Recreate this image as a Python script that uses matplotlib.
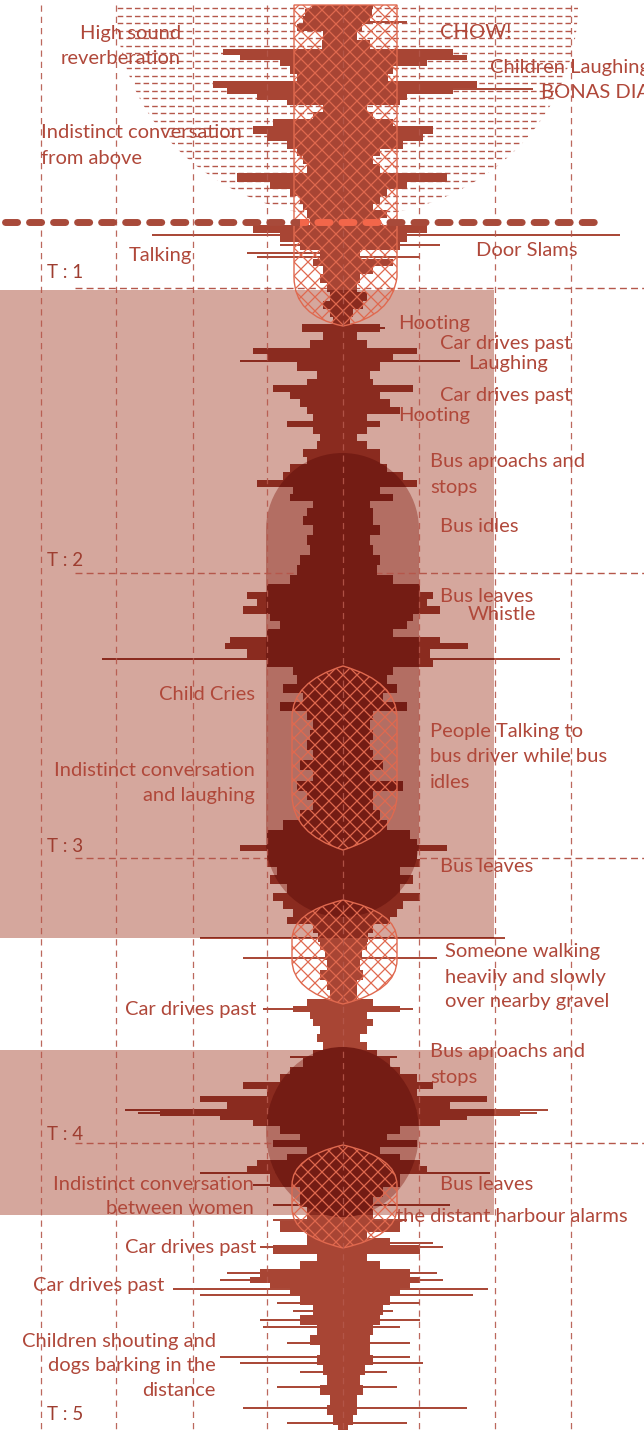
import numpy as np
import matplotlib.pyplot as plt
from matplotlib.patches import Rectangle, PathPatch
from matplotlib.path import Path
from matplotlib.collections import LineCollection
from matplotlib.transforms import Affine2D

W, H = 644, 1430
CX = 343  # centre of the waveform

# waveform envelope (px from top, half widths in px)
wave_t = [5, 12, 20, 27, 35, 45, 52, 57, 62, 70, 77, 85, 90, 97, 102, 108, 115, 122, 130, 137,
          145, 152, 160, 167, 178, 185, 192, 200, 207, 213, 222, 228, 238, 245, 255, 262, 270, 278,
          288, 296, 305, 313, 320, 328, 335, 345, 350, 357, 367, 375, 382, 388, 395, 403, 410, 418,
          423, 430, 437, 445, 453, 460, 468, 476, 484, 490, 498, 503, 512, 520, 530, 540, 550, 560,
          570, 580, 588, 595, 602, 610, 617, 625, 633, 640, 645, 652, 663, 670, 680, 688, 697, 707,
          715, 725, 735, 745, 755, 765, 775, 786, 795, 805, 815, 825, 835, 842, 847, 855, 863, 870,
          880, 888, 897, 905, 913, 920, 928, 938, 945, 955, 965, 975, 985, 995, 1003, 1009, 1015,
          1022, 1030, 1038, 1046, 1053, 1063, 1070, 1078, 1085, 1093, 1098, 1105, 1113, 1118, 1122,
          1130, 1137, 1143, 1150, 1157, 1163, 1168, 1180, 1193, 1200, 1213, 1228, 1235, 1240, 1250,
          1257, 1265, 1273, 1280, 1285, 1290, 1300, 1310, 1320, 1330, 1340, 1350, 1360, 1370, 1380,
          1390, 1400, 1410, 1420, 1430]
amp_left = [31, 38, 40, 46, 20, 21, 120, 103, 63, 53, 46, 130, 116, 86, 56, 20, 30, 70, 90, 76,
            56, 46, 40, 36, 106, 73, 53, 43, 40, 36, 33, 90, 63, 43, 23, 30, 20, 23,
            16, 13, 20, 13, 10, 41, 20, 33, 90, 76, 46, 26, 36, 70, 53, 43, 36, 30,
            56, 30, 23, 26, 40, 36, 53, 60, 86, 50, 53, 30, 36, 40, 30, 36, 33, 43,
            46, 53, 76, 96, 86, 100, 73, 63, 76, 113, 118, 96, 76, 50, 46, 60, 40, 63,
            36, 30, 33, 36, 30, 43, 30, 46, 36, 30, 43, 60, 76, 76, 103, 76, 76, 66,
            73, 56, 70, 60, 50, 56, 30, 25, 23, 18, 16, 23, 16, 13, 36, 50, 33,
            30, 23, 26, 20, 30, 40, 53, 63, 100, 76, 143, 116, 183, 123, 90,
            63, 43, 70, 36, 56, 86, 96, 73, 43, 43, 36, 63, 36, 36, 70,
            26, 43, 83, 93, 73, 53, 43, 30, 43, 26, 33, 23, 26, 20, 16,
            23, 13, 16, 10, 5]
amp_right = [30, 29, 27, 19, 14, 27, 110, 124, 84, 50, 45, 134, 110, 64, 57, 24, 30, 50, 90, 80,
             60, 37, 30, 37, 104, 64, 44, 37, 30, 44, 37, 84, 64, 57, 17, 50, 30, 17,
             14, 24, 20, 10, 7, 37, 14, 24, 74, 50, 37, 27, 30, 70, 37, 47, 57, 24,
             37, 24, 14, 24, 37, 37, 44, 60, 74, 37, 50, 27, 30, 30, 37, 27, 30, 37,
             34, 50, 77, 90, 84, 97, 70, 64, 50, 97, 125, 87, 90, 50, 44, 54, 40, 64,
             30, 27, 30, 27, 30, 40, 27, 60, 30, 30, 37, 44, 67, 74, 104, 74, 77, 57,
             70, 57, 77, 60, 54, 47, 30, 25, 24, 19, 17, 20, 14, 14, 30, 57, 24,
             30, 24, 17, 24, 34, 47, 57, 74, 90, 74, 144, 107, 177, 124, 97,
             57, 44, 74, 37, 57, 77, 84, 57, 40, 30, 30, 57, 24, 47, 77,
             24, 37, 67, 77, 67, 57, 47, 40, 37, 30, 27, 27, 30, 22, 17,
             20, 14, 14, 10, 5]

# thin transient strokes (px from top, left / right reach in px)
spike_t = [22, 89, 235, 245, 253, 257, 328, 361, 410, 595, 610, 645, 659, 707, 786, 847, 920,
           938, 958, 1009, 1057, 1110, 1113, 1173, 1185, 1205, 1220, 1243, 1247, 1273, 1280,
           1289, 1295, 1303, 1311, 1320, 1327, 1343, 1357, 1363, 1372, 1387, 1408, 1423]
spike_left = [0, 0, 191, 63, 96, 86, 41, 103, 36, 96, 100, 118, 241, 63, 46, 103, 56,
              143, 100, 80, 53, 218, 205, 143, 90, 70, 70, 0, 83, 116, 123,
              170, 143, 66, 50, 83, 80, 56, 123, 103, 43, 66, 100, 56]
spike_right = [64, 190, 277, 97, 0, 77, 42, 117, 57, 90, 97, 125, 217, 64, 60, 104, 47,
               162, 94, 70, 54, 205, 194, 147, 40, 107, 64, 90, 100, 94, 100,
               145, 130, 77, 50, 77, 57, 67, 67, 80, 44, 54, 124, 64]

grid_x = [41, 116, 193, 267, 343, 419, 495, 571]
t_marks = ['T : 1', 'T : 2', 'T : 3', 'T : 4', 'T : 5']
t_mark_y = [272, 561, 847, 1134, 1415]
t_line_y = [288, 573, 858, 1143]

events = ['High sound', 'reverberation', 'CHOW!', 'Children Laughing', 'BONAS DIAS',
          'Indistinct conversation', 'from above', 'Talking', 'Door Slams',
          'Hooting', 'Car drives past', 'Laughing', 'Car drives past', 'Hooting',
          'Bus aproachs and', 'stops', 'Bus idles', 'Bus leaves', 'Whistle',
          'Child Cries', 'People Talking to', 'bus driver while bus', 'idles',
          'Indistinct conversation', 'and laughing', 'Bus leaves',
          'Someone walking', 'heavily and slowly', 'over nearby gravel', 'Car drives past',
          'Bus aproachs and', 'stops', 'Indistinct conversation', 'between women',
          'Bus leaves', 'the distant harbour alarms', 'Car drives past', 'Car drives past',
          'Children shouting and', 'dogs barking in the', 'distance']
event_pos = [(181, 33, 'right'), (181, 59, 'right'), (440, 33, 'left'), (490, 67, 'left'),
             (541, 93, 'left'), (41, 132, 'left'), (41, 158, 'left'), (129, 255, 'left'),
             (476, 250, 'left'), (398, 324, 'left'), (440, 344, 'left'), (468, 363, 'left'),
             (440, 395, 'left'), (398, 416, 'left'), (430, 462, 'left'), (430, 488, 'left'),
             (440, 527, 'left'), (440, 596, 'left'), (468, 615, 'left'), (255, 694, 'right'),
             (430, 732, 'left'), (430, 757, 'left'), (430, 782, 'left'), (255, 770, 'right'),
             (255, 796, 'right'), (440, 867, 'left'), (445, 952, 'left'), (445, 977, 'left'),
             (445, 1002, 'left'), (256, 1009, 'right'), (430, 1052, 'left'), (430, 1078, 'left'),
             (254, 1184, 'right'), (254, 1209, 'right'), (440, 1185, 'left'), (396, 1216, 'left'),
             (256, 1247, 'right'), (164, 1285, 'right'), (216, 1341, 'right'),
             (216, 1366, 'right'), (216, 1391, 'right')]

TXT = '#b0483a'
GRID = '#b5574b'
WAVE = '#a84534'
WAVE_MID = '#8a2b1f'
WAVE_DARK = '#741c14'
ROSE = '#d5a79d'
ROSE_DARK = '#b36e63'
HATCH = '#e0694f'

plt.rcParams['font.family'] = ['Lato', 'DejaVu Sans']

fig = plt.figure(figsize=(6.44, 14.30), dpi=100)
ax = fig.add_axes([0, 0, 1, 1])
ax.set_xlim(0, W)
ax.set_ylim(H, 0)
ax.axis('off')


def closed(verts):
    verts = list(verts) + [verts[0]]
    codes = [Path.MOVETO] + [Path.LINETO] * (len(verts) - 2) + [Path.CLOSEPOLY]
    return Path(verts, codes)


def stadium(x0, x1, y0, y1):
    r = (x1 - x0) / 2
    c = (x0 + x1) / 2
    th = np.linspace(np.pi, 0, 40)
    top = [(c + r * np.cos(a), y0 + r - r * np.sin(a)) for a in th]
    bot = [(c - r * np.cos(a), y1 - r + r * np.sin(a)) for a in th]
    return closed(top + bot)


def lens(y_top, y_bot, y_side0, y_side1, x0=292, x1=397, c=343):
    # pointed top and bottom, straight sides in between
    v = [(c, y_top), (x0, y_top + (y_side0 - y_top) * 0.3), (x0, y_side0),
         (x0, y_side1), (x0, y_bot - (y_bot - y_side1) * 0.3), (c, y_bot),
         (x1, y_bot - (y_bot - y_side1) * 0.3), (x1, y_side1), (x1, y_side0),
         (x1, y_top + (y_side0 - y_top) * 0.3), (c, y_top), (c, y_top)]
    codes = [Path.MOVETO, Path.CURVE3, Path.CURVE3, Path.LINETO, Path.CURVE3, Path.CURVE3,
             Path.CURVE3, Path.CURVE3, Path.LINETO, Path.CURVE3, Path.CURVE3, Path.CLOSEPOLY]
    return Path(v, codes)


# top half disc of dashed hatching
disc = PathPatch(Affine2D().scale(231, 212).translate(347, 5).transform_path(Path.unit_circle()),
                 transform=ax.transData)
hl = ax.hlines(np.arange(8, 220, 7.5), 100, 600, colors=GRID, lw=1.0,
               linestyles=(0, (4, 2.2)), zorder=1)
hl.set_clip_path(disc)

# pink bands and the darker shapes
bands = [(290, 938), (1050, 1215)]
for y0, y1 in bands:
    ax.add_patch(Rectangle((0, y0), 494, y1 - y0, color=ROSE, lw=0, zorder=1))
band_path = Path.make_compound_path(*[closed([(0, a), (494, a), (494, b), (0, b)]) for a, b in bands])
band_clip = PathPatch(band_path, transform=ax.transData)

stad = stadium(266, 419, 453, 917)
ell = Affine2D().scale(76.5, 85).translate(342.5, 1132).transform_path(Path.unit_circle())
for p in (stad, ell):
    ax.add_patch(PathPatch(p, color=ROSE_DARK, lw=0, zorder=2))
dark_clip = PathPatch(Path.make_compound_path(stad, ell), transform=ax.transData)

# time marks
ax.hlines(t_line_y, 75, W, colors=GRID, lw=1, linestyles=(0, (5, 3)), zorder=3)
for lab, y in zip(t_marks, t_mark_y):
    ax.text(47, y, lab, color='#9e3d30', fontsize=13.5, va='center', ha='left', zorder=9)

# waveform, darker where it passes over the bands
t = np.array(wave_t, float)
xl = CX - np.array(amp_left)
xr = CX + np.array(amp_right)
st = np.array(spike_t, float)
sl = CX - np.array(spike_left)
sr = CX + np.array(spike_right)
for col, clip in [(WAVE, None), (WAVE_MID, band_clip), (WAVE_DARK, dark_clip)]:
    body = ax.fill_betweenx(t, xl, xr, step='mid', color=col, lw=0, zorder=4)
    strokes = ax.hlines(st, sl, sr, colors=col, lw=1.4, zorder=4)
    if clip is not None:
        body.set_clip_path(clip)
        strokes.set_clip_path(clip)

# cross hatched shapes
shield = Path([(294, 5), (294, 277), (294, 316), (343, 326), (392, 316), (397, 277), (397, 5), (294, 5)],
              [Path.MOVETO, Path.LINETO, Path.CURVE3, Path.CURVE3, Path.CURVE3, Path.CURVE3,
               Path.LINETO, Path.CLOSEPOLY])
shapes = [shield, lens(666, 850, 718, 795), lens(900, 1004, 940, 960), lens(1145, 1248, 1185, 1208)]
offs = np.arange(-1600, 1600, 14.0)
diag = [[(200, 200 + o), (500, 500 + o)] for o in offs] + [[(200, 500 + o), (500, 200 + o)] for o in offs]
for p in shapes:
    patch = PathPatch(p, fill=False, edgecolor=HATCH, lw=1.0, zorder=6)
    ax.add_patch(patch)
    lc = LineCollection(diag, colors=HATCH, lw=0.9, zorder=6)
    ax.add_collection(lc)
    lc.set_clip_path(patch)

# vertical guides
ax.vlines(grid_x, 5, H, colors=GRID, lw=0.9, linestyles=(0, (5, 4)), zorder=7, alpha=0.9)

# thick dashed divider
ax.plot([5, 598], [222, 222], color='#a84a3a', lw=5, dashes=(1.74, 1.72),
        dash_capstyle='round', zorder=8)
over = ax.plot([5, 598], [222, 222], color='#f2664a', lw=5, dashes=(1.74, 1.72),
               dash_capstyle='round', zorder=8)[0]
over.set_clip_path(PathPatch(closed([(300, 200), (385, 200), (385, 240), (300, 240)]),
                             transform=ax.transData))

for lab, (x, y, ha) in zip(events, event_pos):
    ax.text(x, y, lab, color=TXT, fontsize=14.5, ha=ha, va='center', zorder=9)

fig.savefig('out.png', dpi=100)
